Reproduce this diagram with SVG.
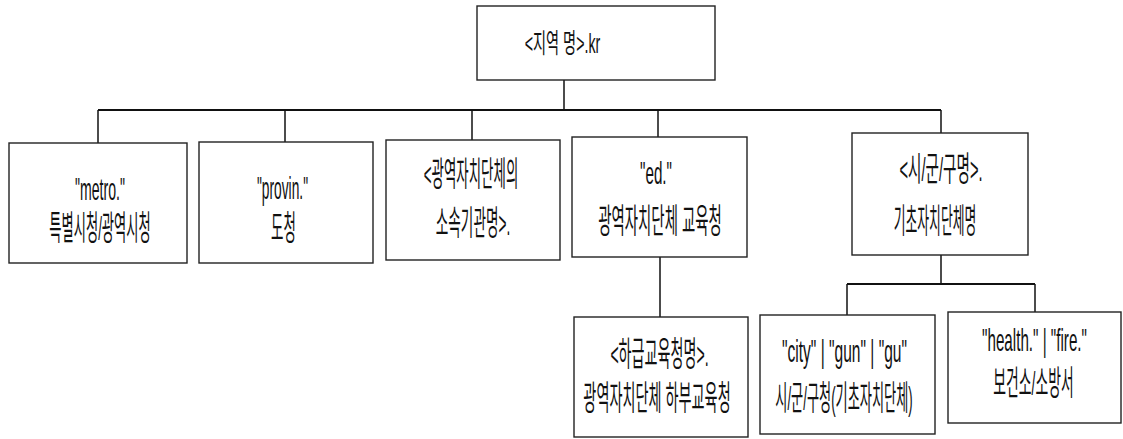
<svg xmlns="http://www.w3.org/2000/svg" width="1123" height="439" viewBox="0 0 1123 439">
<style>
.box{fill:#fff;stroke:#222;stroke-width:1.4}
.ln{fill:none;stroke:#111;stroke-width:1.5}
.bus{stroke-width:2}
.t{font-family:"Liberation Sans","Noto Sans CJK KR",sans-serif;fill:#111;text-anchor:middle}
.k{font-size:34px}
.l{font-size:32px}
</style>
<rect width="1123" height="439" fill="#fff"/>
<g id="connectors">
<line class="ln" x1="564" y1="80" x2="564" y2="110"/>
<line class="ln bus" x1="98" y1="110" x2="941" y2="110"/>
<line class="ln" x1="98" y1="110" x2="98" y2="143"/>
<line class="ln" x1="285" y1="110" x2="285" y2="142"/>
<line class="ln" x1="472" y1="110" x2="472" y2="140"/>
<line class="ln" x1="658" y1="110" x2="658" y2="137"/>
<line class="ln" x1="941" y1="110" x2="941" y2="133"/>
<line class="ln" x1="660" y1="257" x2="660" y2="317"/>
<line class="ln" x1="941" y1="255" x2="941" y2="284"/>
<line class="ln bus" x1="847" y1="284" x2="1035" y2="284"/>
<line class="ln" x1="847" y1="284" x2="847" y2="315"/>
<line class="ln" x1="1035" y1="284" x2="1035" y2="312"/>
</g>
<g id="root">
<rect class="box" x="477" y="6" width="238" height="74"/>
<text class="t" style="font-size:27px" transform="translate(562.5,53) scale(0.527,1)">&lt;지역 명&gt;.kr</text>
</g>
<g id="metro">
<rect class="box" x="9" y="143" width="178" height="120"/>
<text class="t l" transform="translate(100,200) scale(0.441,1)">"metro."</text>
<text class="t k" transform="translate(100,240) scale(0.391,1)">특별시청/광역시청</text>
</g>
<g id="provin">
<rect class="box" x="199" y="142" width="174" height="121"/>
<text class="t l" transform="translate(282.5,199) scale(0.430,1)">"provin."</text>
<text class="t k" transform="translate(283.5,240) scale(0.397,1)">도청</text>
</g>
<g id="agency">
<rect class="box" x="386" y="140" width="174" height="120"/>
<text class="t k" transform="translate(471,186) scale(0.396,1)">&lt;광역자치단체의</text>
<text class="t k" transform="translate(473,235) scale(0.401,1)">소속기관명&gt;.</text>
</g>
<g id="ed">
<rect class="box" x="572" y="137" width="175" height="120"/>
<text class="t l" transform="translate(656,184) scale(0.476,1)">"ed."</text>
<text class="t k" transform="translate(660,233) scale(0.425,1)">광역자치단체 교육청</text>
</g>
<g id="local">
<rect class="box" x="852" y="133" width="176" height="122"/>
<text class="t k" transform="translate(941,181) scale(0.431,1)">&lt;시/군/구명&gt;.</text>
<text class="t k" transform="translate(935,233) scale(0.378,1)">기초자치단체명</text>
</g>
<g id="subed">
<rect class="box" x="574" y="317" width="174" height="120"/>
<text class="t k" transform="translate(659.5,366) scale(0.415,1)">&lt;하급교육청명&gt;.</text>
<text class="t k" transform="translate(657,410) scale(0.417,1)">광역자치단체 하부교육청</text>
</g>
<g id="city">
<rect class="box" x="760" y="315" width="175" height="119"/>
<text class="t l" transform="translate(844.5,362) scale(0.486,1)">"city" | "gun" | "gu"</text>
<text class="t k" transform="translate(844,410) scale(0.388,1)">시/군/구청(기초자치단체)</text>
</g>
<g id="health">
<rect class="box" x="948" y="312" width="173" height="111"/>
<text class="t l" transform="translate(1034.5,351) scale(0.475,1)">"health." | "fire."</text>
<text class="t k" transform="translate(1033.5,395) scale(0.408,1)">보건소/소방서</text>
</g>
</svg>
